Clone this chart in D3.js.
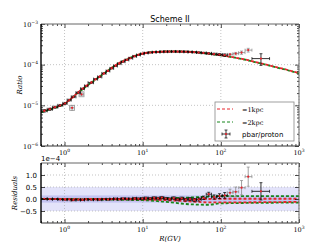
<!DOCTYPE html>
<html>
<head>
<meta charset="utf-8">
<script src="https://cdn.jsdelivr.net/npm/d3@7"></script>
<style>
body { margin: 0; background: #fff; }
text { font-family: "DejaVu Sans", sans-serif; fill: #000; }
.serif { font-family: "DejaVu Serif", serif; }
</style>
</head>
<body>
<script>
// model curves (rigidity in GV, pbar/p ratio)
var modelR = [0.5, 0.7, 1, 1.5, 2, 3, 5, 7, 10, 15, 20, 30, 50, 70, 100, 150, 200, 300, 500, 700, 1000];
var model1kpc = [7.0e-6, 8.6e-6, 1.1e-5, 2.1e-5, 3.2e-5, 5.6e-5, 1.1e-4, 1.5e-4, 1.9e-4, 2.05e-4, 2.1e-4, 2.1e-4, 2.0e-4, 1.86e-4, 1.71e-4, 1.5e-4, 1.35e-4, 1.12e-4, 8.8e-5, 7.5e-5, 6.2e-5];
var model2kpc = [6.7e-6, 8.3e-6, 1.08e-5, 2.05e-5, 3.15e-5, 5.55e-5, 1.09e-4, 1.49e-4, 1.9e-4, 2.06e-4, 2.11e-4, 2.11e-4, 2.0e-4, 1.85e-4, 1.7e-4, 1.49e-4, 1.34e-4, 1.11e-4, 8.7e-5, 7.4e-5, 6.1e-5];

// residual bands of the models (units of 1e-4)
var resModelR = [0.5, 10, 20, 40, 70, 100, 1000];
var res1kpcA = [0, 0, 0, 0, 0, 0.01, 0.01];
var res1kpcB = [0, -0.02, -0.05, -0.1, -0.14, -0.14, -0.12];
var res2kpcA = [0, 0.01, 0.03, 0.06, 0.1, 0.12, 0.12];
var res2kpcB = [0, -0.05, -0.12, -0.22, -0.24, -0.18, -0.15];

// pbar/proton data (black)
var amsR = [0.55, 0.65, 0.76, 0.88, 1.02, 1.15, 1.3, 1.5, 1.7, 1.9, 2.2, 2.5, 2.8, 3.2, 3.6, 4.0, 4.5, 5.0, 5.6, 6.3, 7.0, 7.9, 8.8, 9.9, 11, 12.5, 14, 15.7, 17.6, 19.7, 22, 24.9, 28, 31.6, 35.7, 40.3, 45.6, 52, 60, 70, 82, 96, 112, 326];
var amsLo = [0.5, 0.6, 0.7, 0.82, 0.95, 1.08, 1.22, 1.4, 1.6, 1.8, 2.0, 2.35, 2.65, 3.0, 3.4, 3.8, 4.25, 4.75, 5.3, 5.95, 6.65, 7.45, 8.35, 9.35, 10.45, 11.75, 13.25, 14.85, 16.65, 18.65, 20.85, 23.45, 26.45, 29.8, 33.65, 38.0, 42.95, 48.8, 56, 65, 76, 89, 104, 250];
var amsHi = [0.6, 0.7, 0.82, 0.95, 1.08, 1.22, 1.4, 1.6, 1.8, 2.0, 2.35, 2.65, 3.0, 3.4, 3.8, 4.25, 4.75, 5.3, 5.95, 6.65, 7.45, 8.35, 9.35, 10.45, 11.75, 13.25, 14.85, 16.65, 18.65, 20.85, 23.45, 26.45, 29.8, 33.65, 38.0, 42.95, 48.8, 56, 65, 76, 89, 104, 121, 420];
var amsVal = [7.3e-6, 8.0e-6, 9.0e-6, 1.0e-5, 1.12e-5, 1.35e-5, 1.62e-5, 2.05e-5, 2.55e-5, 3.0e-5, 3.6e-5, 4.4e-5, 5.0e-5, 6.1e-5, 7.0e-5, 8.1e-5, 9.3e-5, 1.06e-4, 1.18e-4, 1.31e-4, 1.44e-4, 1.6e-4, 1.73e-4, 1.84e-4, 1.93e-4, 1.99e-4, 2.03e-4, 2.05e-4, 2.08e-4, 2.09e-4, 2.1e-4, 2.11e-4, 2.1e-4, 2.09e-4, 2.08e-4, 2.05e-4, 2.03e-4, 1.99e-4, 1.94e-4, 1.9e-4, 1.83e-4, 1.78e-4, 1.72e-4, 1.41e-4];
var amsErr = [0.5e-6, 0.5e-6, 0.5e-6, 0.5e-6, 0.6e-6, 0.6e-6, 0.7e-6, 0.8e-6, 0.9e-6, 1.0e-6, 1.1e-6, 1.3e-6, 1.4e-6, 1.6e-6, 1.8e-6, 2.0e-6, 2.3e-6, 2.5e-6, 2.8e-6, 3.0e-6, 3.2e-6, 3.5e-6, 3.7e-6, 3.9e-6, 4.0e-6, 4.1e-6, 4.2e-6, 4.3e-6, 4.4e-6, 4.5e-6, 4.6e-6, 4.8e-6, 5.0e-6, 5.2e-6, 5.5e-6, 5.8e-6, 6.2e-6, 6.6e-6, 7.2e-6, 8.0e-6, 9.0e-6, 1.0e-5, 1.2e-5, 4.5e-5];
var amsRes = [0.01, -0.01, 0.0, -0.02, -0.03, -0.02, -0.04, -0.03, -0.04, -0.02, -0.03, -0.02, -0.03, -0.01, -0.02, 0.0, 0.01, -0.01, 0.02, 0.01, 0.0, 0.03, 0.01, 0.02, 0.04, 0.02, 0.05, 0.03, 0.06, 0.02, 0.0, 0.04, -0.02, 0.03, -0.03, 0.0, -0.05, -0.02, 0.05, 0.2, 0.08, 0.12, 0.15, 0.32];
var amsResErr = [0.01, 0.01, 0.01, 0.01, 0.01, 0.01, 0.01, 0.01, 0.01, 0.01, 0.01, 0.01, 0.015, 0.015, 0.015, 0.02, 0.02, 0.02, 0.025, 0.025, 0.03, 0.03, 0.035, 0.035, 0.04, 0.04, 0.04, 0.04, 0.045, 0.045, 0.045, 0.05, 0.05, 0.05, 0.055, 0.06, 0.06, 0.065, 0.07, 0.08, 0.09, 0.1, 0.12, 0.36];

// other data points (grey)
var othR = [1.25, 1.65, 131, 155, 184, 224];
var othLo = [1.18, 1.55, 121, 143, 169, 204];
var othHi = [1.33, 1.75, 143, 169, 204, 250];
var othVal = [8.7e-6, 1.87e-5, 1.79e-4, 1.87e-4, 1.98e-4, 2.28e-4];
var othErr = [1.2e-6, 1.5e-6, 1.0e-5, 1.3e-5, 1.8e-5, 2.4e-5];
var othRes = [-0.05, -0.02, 0.26, 0.3, 0.47, 0.93];
var othResErr = [0.03, 0.03, 0.15, 0.2, 0.3, 0.4];

var xMajor = [1, 10, 100, 1000];
var yMajor = [1e-6, 1e-5, 1e-4, 1e-3];
var resTicks = [-0.5, 0, 0.5, 1.0];

var W = 332, H = 249;
var L = 41, R = 299;
var topT = 24, topB = 146, botT = 163, botB = 223;
var red = "#e8242c", green = "#17861c";

var svg = d3.select("body").append("svg").attr("width", W).attr("height", H);

var x = d3.scaleLog().domain([0.5, 1000]).range([L, R]);
var yTop = d3.scaleLog().domain([1e-6, 1e-3]).range([topB, topT]);
var yRes = d3.scaleLinear().domain([-1, 1.5]).range([botB, botT]);

var defs = svg.append("defs");
defs.append("clipPath").attr("id", "clipTop").append("rect")
    .attr("x", L).attr("y", topT).attr("width", R - L).attr("height", topB - topT);
defs.append("clipPath").attr("id", "clipBot").append("rect")
    .attr("x", L).attr("y", botT).attr("width", R - L).attr("height", botB - botT);

function pow10(sel, k) {
    sel.text("10");
    sel.append("tspan").attr("dy", -3).attr("font-size", 4.5).text(k < 0 ? "\u2212" + (-k) : k);
}

function axes(g, y, t, b, yVals, yMinor) {
    var xMinor = x.ticks().filter(function (v) { return xMajor.indexOf(v) < 0; });
    var list = [
        [d3.axisBottom(x).tickValues(xMajor).tickSize(-4), "translate(0," + b + ")"],
        [d3.axisBottom(x).tickValues(xMinor).tickSize(-2), "translate(0," + b + ")"],
        [d3.axisTop(x).tickValues(xMajor).tickSize(-4), "translate(0," + t + ")"],
        [d3.axisTop(x).tickValues(xMinor).tickSize(-2), "translate(0," + t + ")"],
        [d3.axisLeft(y).tickValues(yVals).tickSize(-4), "translate(" + L + ",0)"],
        [d3.axisRight(y).tickValues(yVals).tickSize(-4), "translate(" + R + ",0)"]
    ];
    if (yMinor) {
        list.push([d3.axisLeft(y).tickValues(yMinor).tickSize(-2), "translate(" + L + ",0)"]);
        list.push([d3.axisRight(y).tickValues(yMinor).tickSize(-2), "translate(" + R + ",0)"]);
    }
    list.forEach(function (a) {
        var ag = g.append("g").attr("transform", a[1]).call(a[0].tickFormat(""));
        ag.select(".domain").remove();
        ag.selectAll("line").attr("stroke", "#000").attr("stroke-width", 0.7);
    });
    // frame
    g.append("line").attr("x1", L).attr("x2", R).attr("y1", t).attr("y2", t).attr("stroke", "#666");
    g.append("line").attr("x1", R).attr("x2", R).attr("y1", t).attr("y2", b).attr("stroke", "#666");
    g.append("line").attr("x1", L).attr("x2", R).attr("y1", b).attr("y2", b).attr("stroke", "#333");
    g.append("line").attr("x1", L).attr("x2", L).attr("y1", t).attr("y2", b).attr("stroke", "#000").attr("stroke-width", 1.4);
}

function grid(g, y, t, b, yVals) {
    xMajor.forEach(function (v) {
        g.append("line").attr("x1", x(v)).attr("x2", x(v)).attr("y1", t).attr("y2", b)
            .attr("stroke", "#aaa").attr("stroke-width", 0.7).attr("stroke-dasharray", "1,2");
    });
    yVals.forEach(function (v) {
        g.append("line").attr("x1", L).attr("x2", R).attr("y1", y(v)).attr("y2", y(v))
            .attr("stroke", "#aaa").attr("stroke-width", 0.7).attr("stroke-dasharray", "1,2");
    });
}

function errorbars(g, y, rs, lo, hi, val, err, color, square) {
    rs.forEach(function (r, i) {
        var px = x(r), py = y(val[i]);
        var y1 = y(val[i] - err[i]), y2 = y(val[i] + err[i]);
        var x1 = x(lo[i]), x2 = x(hi[i]);
        g.append("line").attr("x1", x1).attr("x2", x2).attr("y1", py).attr("y2", py).attr("stroke", color).attr("stroke-width", 0.8);
        g.append("line").attr("x1", px).attr("x2", px).attr("y1", y1).attr("y2", y2).attr("stroke", color).attr("stroke-width", 0.8);
        [y1, y2].forEach(function (yy) {
            g.append("line").attr("x1", px - 1.5).attr("x2", px + 1.5).attr("y1", yy).attr("y2", yy).attr("stroke", color).attr("stroke-width", 0.7);
        });
        [x1, x2].forEach(function (xx) {
            g.append("line").attr("x1", xx).attr("x2", xx).attr("y1", py - 1.5).attr("y2", py + 1.5).attr("stroke", color).attr("stroke-width", 0.7);
        });
        if (square && r < 10) {
            g.append("rect").attr("x", px - 2.5).attr("y", py - 2.5).attr("width", 5).attr("height", 5)
                .attr("fill", "none").attr("stroke", "#999").attr("stroke-width", 0.8);
        }
        g.append("circle").attr("cx", px).attr("cy", py).attr("r", 1.1).attr("fill", red);
    });
}

function dashed(g, pts, y, color, offset) {
    var line = d3.line().x(function (d) { return x(d[0]); }).y(function (d) { return y(d[1]); }).curve(d3.curveMonotoneX);
    g.append("path").attr("d", line(pts)).attr("fill", "none").attr("stroke", color)
        .attr("stroke-width", 1.8).attr("stroke-dasharray", "3,2").attr("stroke-dashoffset", offset);
}

// ---------- top panel ----------
var gTop = svg.append("g");
grid(gTop, yTop, topT, topB, [1e-5, 1e-4]);
var topPlot = gTop.append("g").attr("clip-path", "url(#clipTop)");
dashed(topPlot, d3.zip(modelR, model2kpc), yTop, green, 0);
dashed(topPlot, d3.zip(modelR, model1kpc), yTop, red, 2.5);
errorbars(topPlot, yTop, othR, othLo, othHi, othVal, othErr, "#888", true);
errorbars(topPlot, yTop, amsR, amsLo, amsHi, amsVal, amsErr, "#000", false);
axes(gTop, yTop, topT, topB, yMajor, yTop.ticks().filter(function (v) { return yMajor.indexOf(v) < 0; }));

xMajor.forEach(function (v, i) {
    gTop.append("text").attr("class", "serif").attr("x", x(v)).attr("y", 154.5)
        .attr("text-anchor", "middle").attr("font-size", 6.5).call(pow10, i);
    svg.append("text").attr("class", "serif").attr("x", x(v)).attr("y", 231.5)
        .attr("text-anchor", "middle").attr("font-size", 6.5).call(pow10, i);
});
yMajor.forEach(function (v, i) {
    gTop.append("text").attr("class", "serif").attr("x", 38).attr("y", yTop(v) + 2.5)
        .attr("text-anchor", "end").attr("font-size", 6.5).call(pow10, i - 6);
});

svg.append("text").attr("x", 170).attr("y", 21.5).attr("text-anchor", "middle")
    .attr("font-size", 8).text("Scheme II");
svg.append("text").attr("class", "serif").attr("font-style", "italic").attr("font-size", 7)
    .attr("text-anchor", "middle").attr("transform", "translate(22,85) rotate(-90)").text("Ratio");

// legend
var lg = svg.append("g");
lg.append("rect").attr("x", 215).attr("y", 102).attr("width", 79).attr("height", 39)
    .attr("fill", "#fff").attr("stroke", "#888").attr("stroke-width", 0.8);
[[red, "=1kpc", 109], [green, "=2kpc", 122]].forEach(function (d) {
    lg.append("line").attr("x1", 217).attr("x2", 233).attr("y1", d[2]).attr("y2", d[2])
        .attr("stroke", d[0]).attr("stroke-width", 1).attr("stroke-dasharray", "3,2");
    lg.append("text").attr("class", "serif").attr("x", 242).attr("y", d[2] + 2.5)
        .attr("font-size", 6.5).text(d[1]);
});
lg.append("line").attr("x1", 222).attr("x2", 230).attr("y1", 134).attr("y2", 134).attr("stroke", "#000").attr("stroke-width", 0.8);
lg.append("line").attr("x1", 226).attr("x2", 226).attr("y1", 130).attr("y2", 138).attr("stroke", "#000").attr("stroke-width", 0.8);
[130, 138].forEach(function (yy) {
    lg.append("line").attr("x1", 224.5).attr("x2", 227.5).attr("y1", yy).attr("y2", yy).attr("stroke", "#000").attr("stroke-width", 0.7);
});
[222, 230].forEach(function (xx) {
    lg.append("line").attr("x1", xx).attr("x2", xx).attr("y1", 132.5).attr("y2", 135.5).attr("stroke", "#000").attr("stroke-width", 0.7);
});
lg.append("circle").attr("cx", 226).attr("cy", 134).attr("r", 1.1).attr("fill", red);
lg.append("text").attr("x", 242).attr("y", 136.5).attr("font-size", 7).text("pbar/proton");

// ---------- residual panel ----------
var gBot = svg.append("g");
gBot.append("rect").attr("x", L).attr("width", R - L).attr("y", yRes(0.5)).attr("height", yRes(-0.5) - yRes(0.5)).attr("fill", "#e3e3fa");
gBot.append("rect").attr("x", L).attr("width", R - L).attr("y", yRes(0.15)).attr("height", yRes(-0.15) - yRes(0.15)).attr("fill", "#c3c3f1");
grid(gBot, yRes, botT, botB, resTicks);
var botPlot = gBot.append("g").attr("clip-path", "url(#clipBot)");
dashed(botPlot, d3.zip(resModelR, res2kpcA), yRes, green, 0);
dashed(botPlot, d3.zip(resModelR, res2kpcB), yRes, green, 0);
dashed(botPlot, d3.zip(resModelR, res1kpcA), yRes, red, 2.5);
dashed(botPlot, d3.zip(resModelR, res1kpcB), yRes, red, 2.5);
errorbars(botPlot, yRes, othR, othLo, othHi, othRes, othResErr, "#888", false);
errorbars(botPlot, yRes, amsR, amsLo, amsHi, amsRes, amsResErr, "#000", false);
axes(gBot, yRes, botT, botB, resTicks, null);

resTicks.forEach(function (v) {
    gBot.append("text").attr("x", 37).attr("y", yRes(v) + 2.5).attr("text-anchor", "end")
        .attr("font-size", 7).text(d3.format(".1f")(v).replace("-", "\u2212"));
});
svg.append("text").attr("x", 41).attr("y", 161).attr("font-size", 7).text("1e\u22124");
svg.append("text").attr("class", "serif").attr("font-style", "italic").attr("font-size", 7)
    .attr("text-anchor", "middle").attr("transform", "translate(17,193) rotate(-90)").text("Residuals");
svg.append("text").attr("class", "serif").attr("font-style", "italic").attr("font-size", 7)
    .attr("text-anchor", "middle").attr("x", 170).attr("y", 241).text("R(GV)");
</script>
</body>
</html>
